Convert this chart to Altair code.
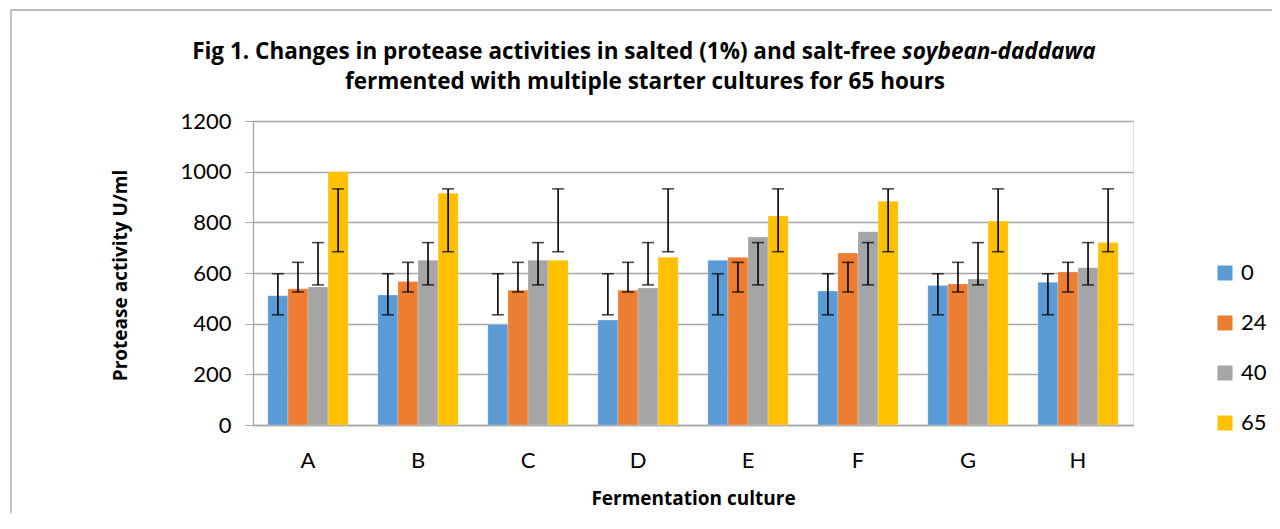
import altair as alt
import pandas as pd

categories = ["A", "B", "C", "D", "E", "F", "G", "H"]
series = ["0", "24", "40", "65"]
values = {
    "0":  [510, 513, 397, 414, 650, 529, 551, 563],
    "24": [538, 566, 532, 532, 662, 679, 557, 604],
    "40": [545, 650, 650, 541, 742, 763, 576, 621],
    "65": [1000, 915, 650, 662, 825, 883, 805, 720],
}
err_low = {"0": 435, "24": 525, "40": 553, "65": 684}
err_high = {"0": 597, "24": 642, "40": 720, "65": 932}
colors = ["#5B9BD5", "#ED7D31", "#A5A5A5", "#FFC000"]

rows = []
for s in series:
    for i, c in enumerate(categories):
        rows.append({"culture": c, "hour": s, "value": values[s][i],
                     "lo": err_low[s], "hi": err_high[s]})
df = pd.DataFrame(rows)

FONT = "Lato"
BFONT = "Open Sans"
W, H = 880, 304

x_enc = alt.X("culture:N", sort=categories,
              scale=alt.Scale(paddingInner=0.27, paddingOuter=0.135),
              axis=alt.Axis(title="Fermentation culture", labelAngle=0, ticks=False,
                            labelPadding=25, labelFontSize=22, labelFont=FONT,
                            labelColor="#000000", titleFont=BFONT, titleFontSize=19,
                            titleFontWeight="bold", titleColor="#000000",
                            titleY=73, titleBaseline="middle",
                            domainColor="#a6a6a6", domainWidth=1.3, grid=False))
xoff = alt.XOffset("hour:N", sort=series, scale=alt.Scale(paddingInner=0, paddingOuter=0))

base = alt.Chart(df)

bars = base.mark_bar(stroke="#ffffff", strokeWidth=0.4, strokeOpacity=0.6).encode(
    x=x_enc,
    xOffset=xoff,
    y=alt.Y("value:Q", scale=alt.Scale(domain=[0, 1200], nice=False),
            axis=alt.Axis(title="Protease activity U/ml", values=list(range(0, 1201, 200)),
                          format="d", tickSize=8, tickColor="#a6a6a6", labelPadding=14,
                          labelFontSize=22, labelFont=FONT, labelColor="#000000",
                          titleFont=BFONT, titleFontSize=19, titleFontWeight="bold",
                          titleColor="#000000", titleX=-133, titleY=H / 2 + 2,
                          titleBaseline="middle", titleAngle=-90,
                          grid=True, gridColor="#a6a6a6", gridWidth=1.3,
                          domainColor="#a6a6a6", domainWidth=1.3)),
    color=alt.Color("hour:N", sort=series,
                    scale=alt.Scale(domain=series, range=colors),
                    legend=alt.Legend(title=None, orient="none", legendX=961, legendY=141,
                                      symbolType="square", symbolSize=225,
                                      symbolStrokeWidth=0, labelFontSize=22,
                                      labelFont=FONT, labelColor="#000000",
                                      rowPadding=28, labelOffset=5)),
)

rules = base.mark_rule(color="#000000", strokeWidth=1.6).encode(
    x=alt.X("culture:N", sort=categories), xOffset=xoff,
    y=alt.Y("lo:Q"), y2="hi:Q")
cap_lo = base.mark_tick(color="#000000", size=12, thickness=1.6, orient="horizontal").encode(
    x=alt.X("culture:N", sort=categories), xOffset=xoff, y="lo:Q")
cap_hi = base.mark_tick(color="#000000", size=12, thickness=1.6, orient="horizontal").encode(
    x=alt.X("culture:N", sort=categories), xOffset=xoff, y="hi:Q")

TS = 22.5
title_df = pd.DataFrame({"t": [0]})
t1a = alt.Chart(title_df).mark_text(
    text="Fig 1. Changes in protease activities in salted (1%) and salt-free",
    font=BFONT, fontSize=TS, fontWeight="bold", align="right", baseline="middle",
    color="#000000").encode(x=alt.value(643), y=alt.value(-69))
t1b = alt.Chart(title_df).mark_text(
    text="soybean-daddawa", font=BFONT, fontSize=TS, fontWeight="bold",
    fontStyle="italic", align="left", baseline="middle",
    color="#000000").encode(x=alt.value(649), y=alt.value(-69))
t2 = alt.Chart(title_df).mark_text(
    text="fermented with multiple starter cultures for 65 hours",
    font=BFONT, fontSize=TS, fontWeight="bold", align="center", baseline="middle",
    color="#000000").encode(x=alt.value(392), y=alt.value(-39))
frame = alt.Chart(title_df).mark_rect(fill=None, stroke="#a6a6a6", strokeWidth=1.3).encode(
    x=alt.value(-242), x2=alt.value(1100), y=alt.value(-111), y2=alt.value(600))

chart = alt.layer(frame, bars, rules, cap_lo, cap_hi, t1a, t1b, t2).properties(
    width=W, height=H,
    autosize=alt.AutoSizeParams(type="none"),
    padding={"left": 245, "top": 113, "right": 139, "bottom": 88},
).configure_view(stroke=None).configure(background="#ffffff")

chart.save("out.html", embed_options={"renderer": "svg", "actions": False})
